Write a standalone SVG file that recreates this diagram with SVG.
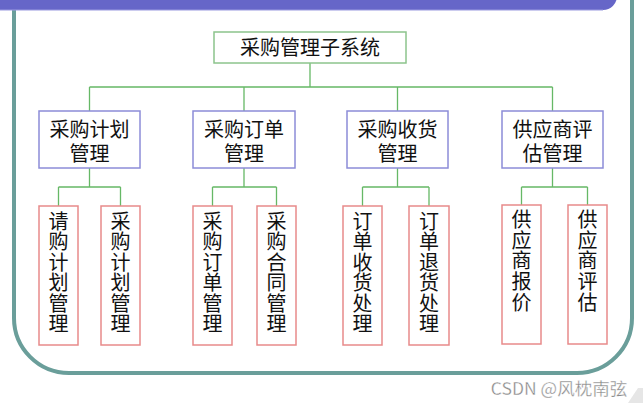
<svg xmlns="http://www.w3.org/2000/svg" width="643" height="403" viewBox="0 0 643 403">
<style>
text{font-family:"Noto Sans CJK SC","Noto Sans",sans-serif;font-size:20px;fill:#111;text-anchor:middle}
.top{fill:#fff;stroke:#8cc48c;stroke-width:1.5}
.mid{fill:#fff;stroke:#8c8cd8;stroke-width:1.5}
.leaf{fill:#fff;stroke:#e88a8a;stroke-width:1.5}
.conn{fill:none;stroke:#66b866;stroke-width:1.3}
</style>
<rect x="0" y="0" width="643" height="403" fill="#fff"/>
<g id="frame">
<path d="M14,0 V318 A55,55 0 0 0 69,373 H577 A55,55 0 0 0 632,318 V0" fill="none" stroke="#6a9e9a" stroke-width="4"/>
<path d="M0,-10 H617 V-4 A14,14 0 0 1 603,10 H0 Z" fill="#6666c8"/>
<line x1="0" y1="10" x2="603" y2="10" stroke="#9a9ae0" stroke-width="1"/>
</g>
<g id="connectors" class="conn">
<path d="M310,63 V87 M89.5,87 H552.5 M89.5,87 V111 M244,87 V111 M397.5,87 V111 M552.5,87 V111"/>
<path d="M89.5,168 V187 M58.5,187 H120.5 M58.5,187 V206 M120.5,187 V206"/>
<path d="M244,168 V187 M212.5,187 H276.5 M212.5,187 V206 M276.5,187 V206"/>
<path d="M397.5,168 V187 M362.5,187 H429 M362.5,187 V206 M429,187 V206"/>
<path d="M552.5,168 V187 M521.5,187 H587.5 M521.5,187 V205 M587.5,187 V205"/>
</g>
<g id="root"><rect class="top" x="214" y="32" width="192" height="31"/><text x="310" y="55">采购管理子系统</text></g>
<g id="m1"><rect class="mid" x="39" y="111" width="101" height="57"/><text x="89.5" y="137">采购计划</text><text x="89.5" y="161">管理</text></g>
<g id="m2"><rect class="mid" x="193" y="111" width="102" height="57"/><text x="244" y="137">采购订单</text><text x="244" y="161">管理</text></g>
<g id="m3"><rect class="mid" x="347" y="111" width="101" height="57"/><text x="397.5" y="137">采购收货</text><text x="397.5" y="161">管理</text></g>
<g id="m4"><rect class="mid" x="502" y="111" width="101" height="57"/><text x="552.5" y="137">供应商评</text><text x="552.5" y="161">估管理</text></g>
<g id="l1"><rect class="leaf" x="39" y="206" width="39" height="139"/><text x="58.5" y="229"><tspan x="58.5">请</tspan><tspan x="58.5" dy="20.4">购</tspan><tspan x="58.5" dy="20.4">计</tspan><tspan x="58.5" dy="20.4">划</tspan><tspan x="58.5" dy="20.4">管</tspan><tspan x="58.5" dy="20.4">理</tspan></text></g>
<g id="l2"><rect class="leaf" x="101" y="206" width="39" height="139"/><text x="120.5" y="229"><tspan x="120.5">采</tspan><tspan x="120.5" dy="20.4">购</tspan><tspan x="120.5" dy="20.4">计</tspan><tspan x="120.5" dy="20.4">划</tspan><tspan x="120.5" dy="20.4">管</tspan><tspan x="120.5" dy="20.4">理</tspan></text></g>
<g id="l3"><rect class="leaf" x="193" y="206" width="39" height="139"/><text x="212.5" y="229"><tspan x="212.5">采</tspan><tspan x="212.5" dy="20.4">购</tspan><tspan x="212.5" dy="20.4">订</tspan><tspan x="212.5" dy="20.4">单</tspan><tspan x="212.5" dy="20.4">管</tspan><tspan x="212.5" dy="20.4">理</tspan></text></g>
<g id="l4"><rect class="leaf" x="257" y="206" width="39" height="139"/><text x="276.5" y="229"><tspan x="276.5">采</tspan><tspan x="276.5" dy="20.4">购</tspan><tspan x="276.5" dy="20.4">合</tspan><tspan x="276.5" dy="20.4">同</tspan><tspan x="276.5" dy="20.4">管</tspan><tspan x="276.5" dy="20.4">理</tspan></text></g>
<g id="l5"><rect class="leaf" x="343" y="206" width="39" height="139"/><text x="362.5" y="229"><tspan x="362.5">订</tspan><tspan x="362.5" dy="20.4">单</tspan><tspan x="362.5" dy="20.4">收</tspan><tspan x="362.5" dy="20.4">货</tspan><tspan x="362.5" dy="20.4">处</tspan><tspan x="362.5" dy="20.4">理</tspan></text></g>
<g id="l6"><rect class="leaf" x="409" y="206" width="40" height="139"/><text x="429" y="229"><tspan x="429">订</tspan><tspan x="429" dy="20.4">单</tspan><tspan x="429" dy="20.4">退</tspan><tspan x="429" dy="20.4">货</tspan><tspan x="429" dy="20.4">处</tspan><tspan x="429" dy="20.4">理</tspan></text></g>
<g id="l7"><rect class="leaf" x="502" y="205" width="39" height="139"/><text x="521.5" y="227"><tspan x="521.5">供</tspan><tspan x="521.5" dy="20.7">应</tspan><tspan x="521.5" dy="20.7">商</tspan><tspan x="521.5" dy="20.7">报</tspan><tspan x="521.5" dy="20.7">价</tspan></text></g>
<g id="l8"><rect class="leaf" x="568" y="205" width="39" height="139"/><text x="587.5" y="227"><tspan x="587.5">供</tspan><tspan x="587.5" dy="20.7">应</tspan><tspan x="587.5" dy="20.7">商</tspan><tspan x="587.5" dy="20.7">评</tspan><tspan x="587.5" dy="20.7">估</tspan></text></g>
<g id="watermark">
<polygon points="628,403 638,388 643,388 643,403" fill="#e6e6e6"/>
<text x="559" y="395" style="font-size:17.5px;fill:#8a8a8a;stroke:#fff;stroke-width:0.3">CSDN @风枕南弦</text>
</g>
</svg>
